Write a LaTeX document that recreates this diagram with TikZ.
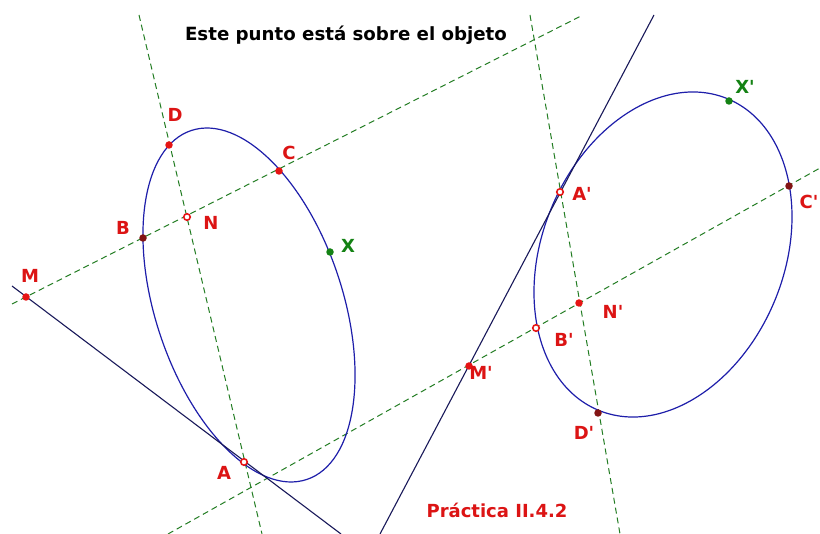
\documentclass[tikz,border=0pt]{standalone}
\usepackage{fontspec}
\setmainfont{DejaVu Sans}[Ligatures=TeXOff]
\definecolor{dgreen}{RGB}{35,125,35}
\definecolor{ellblue}{RGB}{30,30,170}
\definecolor{tanline}{RGB}{25,25,90}
\definecolor{ptred}{RGB}{230,20,20}
\definecolor{ptdark}{RGB}{130,20,20}
\definecolor{lblred}{RGB}{220,20,20}
\definecolor{lblgreen}{RGB}{20,130,20}
\begin{document}
\begin{tikzpicture}[x=1pt,y=1pt,
 guide/.style={draw=dgreen, line width=1pt, dash pattern=on 6pt off 4pt},
 conic/.style={draw=ellblue, line width=1.2pt},
 tangent/.style={draw=tanline, line width=1.1pt},
 pt/.style={circle, fill=ptred, inner sep=0pt, minimum size=7.5pt},
 ptdk/.style={circle, fill=ptdark, inner sep=0pt, minimum size=7.5pt},
 ptring/.style={circle, draw=ptred, fill=white, line width=1.6pt, inner sep=0pt, minimum size=6.5pt},
 ptgreen/.style={circle, fill=lblgreen, inner sep=0pt, minimum size=7.5pt},
 lbl/.style={text=lblred, font=\bfseries\fontsize{18}{21}\selectfont, inner sep=0pt},
 lblg/.style={lbl, text=lblgreen},
]
\useasboundingbox (0,0) rectangle (820,-534);
\fill[white] (0,0) rectangle (820,-534);

% free ends of the lines
\coordinate (g1a) at (12,-304);
\coordinate (g1b) at (583,-15);
\coordinate (g2a) at (139,-15);
\coordinate (g2b) at (262,-534);
\coordinate (g3a) at (168,-534);
\coordinate (g3b) at (820,-168);
\coordinate (g4a) at (530,-15);
\coordinate (g4b) at (620,-534);
\coordinate (t1a) at (12,-286);
\coordinate (t1b) at (341,-534);
\coordinate (t2a) at (380,-534);
\coordinate (t2b) at (654,-15);

% dashed construction lines
\draw[guide] (g1a) -- (g1b);
\draw[guide] (g2a) -- (g2b);
\draw[guide] (g3a) -- (g3b);
\draw[guide] (g4a) -- (g4b);

% conics
\draw[conic, rotate around={-71.7:(249,-305)}] (249,-305) ellipse [x radius=183.8, y radius=93.7];
\draw[conic, rotate around={67.5:(663,-254.5)}] (663,-254.5) ellipse [x radius=168.6, y radius=120.9];

% tangent lines
\draw[tangent] (t1a) -- (t1b);
\draw[tangent] (t2a) -- (t2b);

% points, left figure
\node[pt] (D) at (169,-145) {};
\node[pt] (C) at (279,-171) {};
\node[ptdk] (B) at (143,-238) {};
\node[ptring] (N) at (187,-217) {};
\node[ptgreen] (X) at (330,-252) {};
\node[ptring] (A) at (244,-462) {};
\node[pt] (M) at (26,-297) {};

% points, right figure
\node[ptring] (A2) at (560,-192) {};
\node[ptdk] (C2) at (789,-186) {};
\node[ptgreen] (X2) at (729,-101) {};
\node[pt] (N2) at (579,-303) {};
\node[ptring] (B2) at (536,-328) {};
\node[pt] (M2) at (469,-366) {};
\node[ptdk] (D2) at (598,-413) {};

% labels
\node[lbl] (lD) at (175,-115) {D};
\node[lbl] (lC) at (289,-153) {C};
\node[lbl] (lB) at (123,-228) {B};
\node[lbl] (lN) at (211,-223) {N};
\node[lblg] (lX) at (348,-246) {X};
\node[lbl] (lM) at (30,-276) {M};
\node[lbl] (lA) at (224,-473) {A};
\node[lblg] (lX2) at (745,-87) {X'};
\node[lbl] (lA2) at (582,-194) {A'};
\node[lbl] (lC2) at (809,-202) {C'};
\node[lbl] (lN2) at (613,-312) {N'};
\node[lbl] (lB2) at (564,-340) {B'};
\node[lbl] (lM2) at (481,-373) {M'};
\node[lbl] (lD2) at (584,-433) {D'};

\node[font=\bfseries\fontsize{18.2}{21}\selectfont, inner sep=0pt] (title) at (346,-35) {Este punto está sobre el objeto};
\node[lbl, font=\bfseries\fontsize{18}{21}\selectfont] (prac) at (497,-510) {Práctica II.4.2};
\end{tikzpicture}
\end{document}
